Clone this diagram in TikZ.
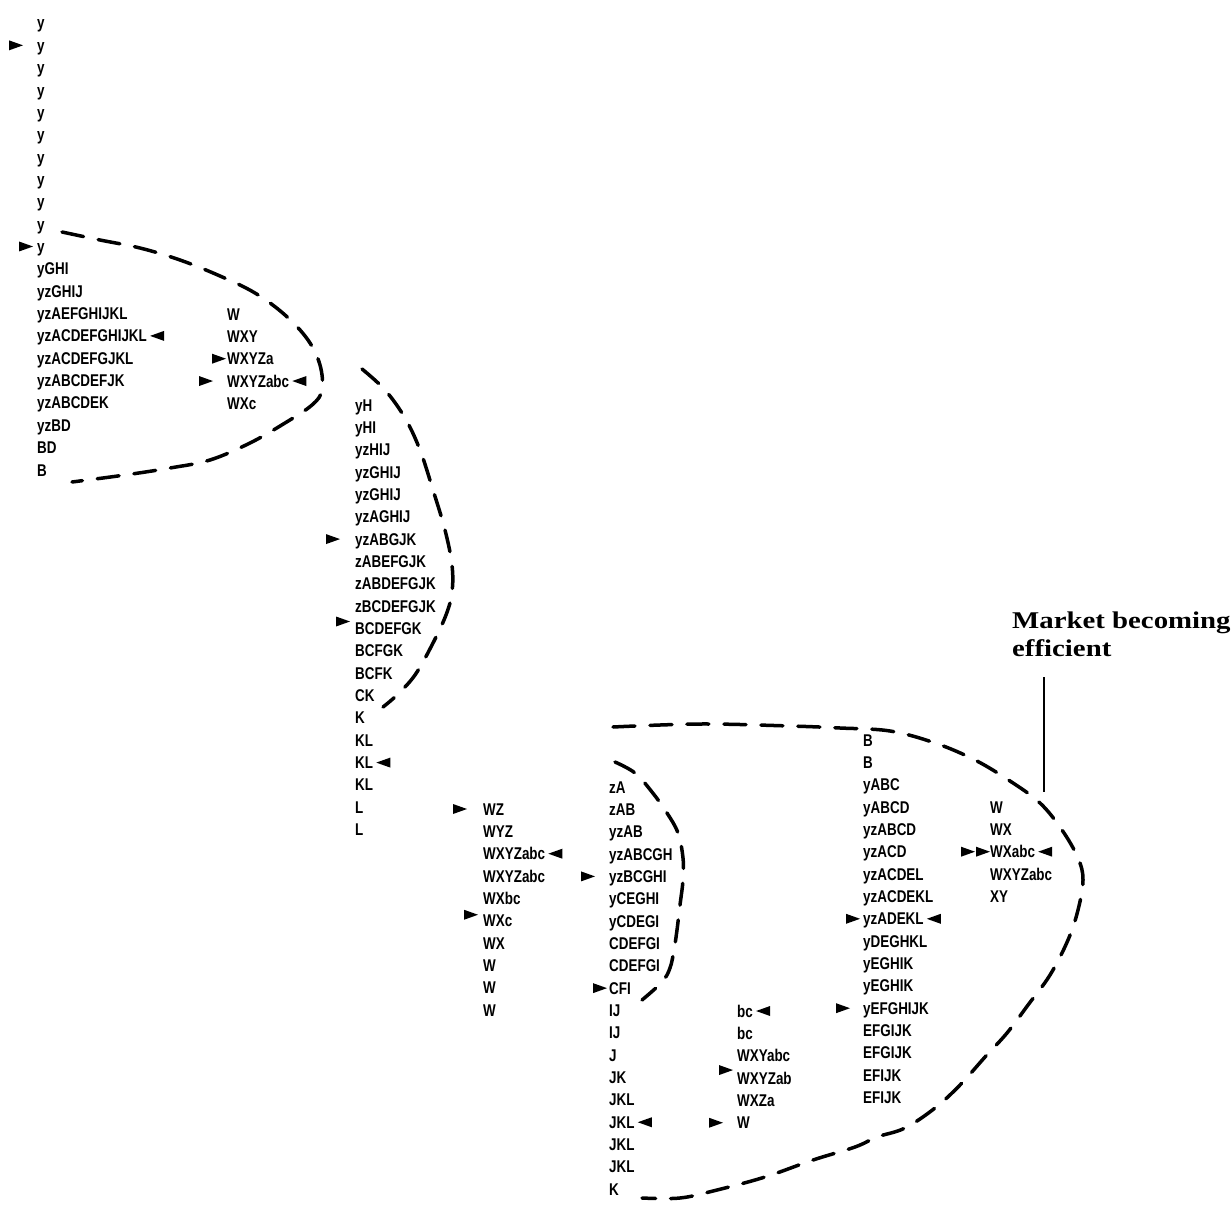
\documentclass[tikz,border=0pt]{standalone}
\usepackage{fontspec}
\newfontfamily\colfont{Liberation Sans}[FakeStretch=0.79]
\newfontfamily\lblfont{Liberation Serif}[FakeStretch=1.2]
\usetikzlibrary{calc}
\tikzset{
  row/.style={anchor=west, inner sep=0pt, text height=12pt, text depth=0pt,
    font=\colfont\bfseries\fontsize{17}{20}\selectfont},
  lbl/.style={anchor=north west, inner sep=0pt, align=left,
    font=\lblfont\bfseries\fontsize{24}{28}\selectfont},
  dashloop/.style={line width=3.5pt, dash pattern=on 22pt off 15pt, line cap=round},
  leader/.style={line width=2pt},
  rtri/.pic={\fill (0,0) -- (-14,-5) -- (-14,5) -- cycle;},
  ltri/.pic={\fill (0,0) -- (14,-5) -- (14,5) -- cycle;}
}
\begin{document}
\begin{tikzpicture}[x=1pt,y=-1pt]
\useasboundingbox (0,0) rectangle (1232,1209);
% column 1
\foreach \t [count=\i] in {y,y,y,y,y,y,y,y,y,y,y,yGHI,yzGHIJ,yzAEFGHIJKL,yzACDEFGHIJKL,yzACDEFGJKL,yzABCDEFJK,yzABCDEK,yzBD,BD,B}
  \node[row] (c1r\i) at (37,{23+(\i-1)*22.35}) {\t};
% column 2
\foreach \t [count=\i] in {W,WXY,WXYZa,WXYZabc,WXc}
  \node[row] (c2r\i) at (227,{314+(\i-1)*22.35}) {\t};
% column 3
\foreach \t [count=\i] in {yH,yHI,yzHIJ,yzGHIJ,yzGHIJ,yzAGHIJ,yzABGJK,zABEFGJK,zABDEFGJK,zBCDEFGJK,BCDEFGK,BCFGK,BCFK,CK,K,KL,KL,KL,L,L}
  \node[row] (c3r\i) at (355,{405+(\i-1)*22.35}) {\t};
% column 4
\foreach \t [count=\i] in {WZ,WYZ,WXYZabc,WXYZabc,WXbc,WXc,WX,W,W,W}
  \node[row] (c4r\i) at (483,{809+(\i-1)*22.35}) {\t};
% column 5
\foreach \t [count=\i] in {zA,zAB,yzAB,yzABCGH,yzBCGHI,yCEGHI,yCDEGI,CDEFGI,CDEFGI,CFI,IJ,IJ,J,JK,JKL,JKL,JKL,JKL,K}
  \node[row] (c5r\i) at (609,{787+(\i-1)*22.35}) {\t};
% column 6
\foreach \t [count=\i] in {bc,bc,WXYabc,WXYZab,WXZa,W}
  \node[row] (c6r\i) at (737,{1011+(\i-1)*22.35}) {\t};
% column 7
\foreach \t [count=\i] in {B,B,yABC,yABCD,yzABCD,yzACD,yzACDEL,yzACDEKL,yzADEKL,yDEGHKL,yEGHIK,yEGHIK,yEFGHIJK,EFGIJK,EFGIJK,EFIJK,EFIJK}
  \node[row] (c7r\i) at (863,{740+(\i-1)*22.35}) {\t};
% column 8
\foreach \t [count=\i] in {W,WX,WXabc,WXYZabc,XY}
  \node[row] (c8r\i) at (990,{807+(\i-1)*22.35}) {\t};
% pointers
\pic at ([xshift=-14pt]c1r2.west) {rtri};
\pic at ([xshift=-4pt]c1r11.west) {rtri};
\pic at ([xshift=3pt]c1r15.east) {ltri};
\pic at ([xshift=-1pt]c2r3.west) {rtri};
\pic at ([xshift=-14pt]c2r4.west) {rtri};
\pic at ([xshift=3pt]c2r4.east) {ltri};
\pic at ([xshift=-15pt]c3r7.west) {rtri};
\pic at ([xshift=-5pt,yshift=7pt]c3r11.west) {rtri};
\pic at ([xshift=3pt]c3r17.east) {ltri};
\pic at ([xshift=-16pt]c4r1.west) {rtri};
\pic at ([xshift=3pt]c4r3.east) {ltri};
\pic at ([xshift=-5pt,yshift=6pt]c4r6.west) {rtri};
\pic at ([xshift=-14pt]c5r5.west) {rtri};
\pic at ([xshift=-2pt]c5r10.west) {rtri};
\pic at ([xshift=3pt]c5r16.east) {ltri};
\pic at ([xshift=3pt]c6r1.east) {ltri};
\pic at ([xshift=-4pt,yshift=8pt]c6r4.west) {rtri};
\pic at ([xshift=-14pt]c6r6.west) {rtri};
\pic at ([xshift=-3pt]c7r9.west) {rtri};
\pic at ([xshift=3pt]c7r9.east) {ltri};
\pic at ([xshift=-13pt]c7r13.west) {rtri};
\pic at ([xshift=-15pt]c8r3.west) {rtri};
\pic at ([xshift=0pt]c8r3.west) {rtri};
\pic at ([xshift=3pt]c8r3.east) {ltri};
% dashed loops
\draw[dashloop] plot[smooth, tension=0.6] coordinates {(62,232) (100,240) (140,248) (180,260) (220,276) (255,293) (285,315) (308,340) (320,365) (322,390) (312,405) (285,423) (250,443) (210,460) (170,468) (125,475) (72,482)};
\draw[dashloop] plot[smooth, tension=0.6] coordinates {(362,369) (385,390) (405,418) (420,450) (433,490) (445,530) (452,565) (452,592) (446,615) (432,645) (415,675) (397,695) (383,707)};
\draw[dashloop] plot[smooth, tension=0.6] coordinates {(613,727) (700,724) (790,726) (840,728) (890,731) (935,743) (975,760) (1010,781) (1040,803) (1062,830) (1078,858) (1083,880) (1078,910) (1068,940) (1050,975) (1028,1005) (1007,1033) (985,1057) (960,1085) (935,1108) (905,1128) (877,1137) (855,1147) (813,1160) (765,1177) (717,1190) (680,1198) (642,1198)};
\draw[dashloop] plot[smooth, tension=0.6] coordinates {(615,762) (635,773) (652,792) (667,813) (678,833) (683,858) (683,880) (680,905) (677,930) (674,950) (670,968) (662,982) (642,1000)};
% label
\node[lbl] (mkt) at (1012,612) {Market becoming\\efficient};
\coordinate (ltop) at (1044,677);
\coordinate (lbot) at (1044,792);
\draw[leader] (ltop) -- (lbot);
\end{tikzpicture}
\end{document}
